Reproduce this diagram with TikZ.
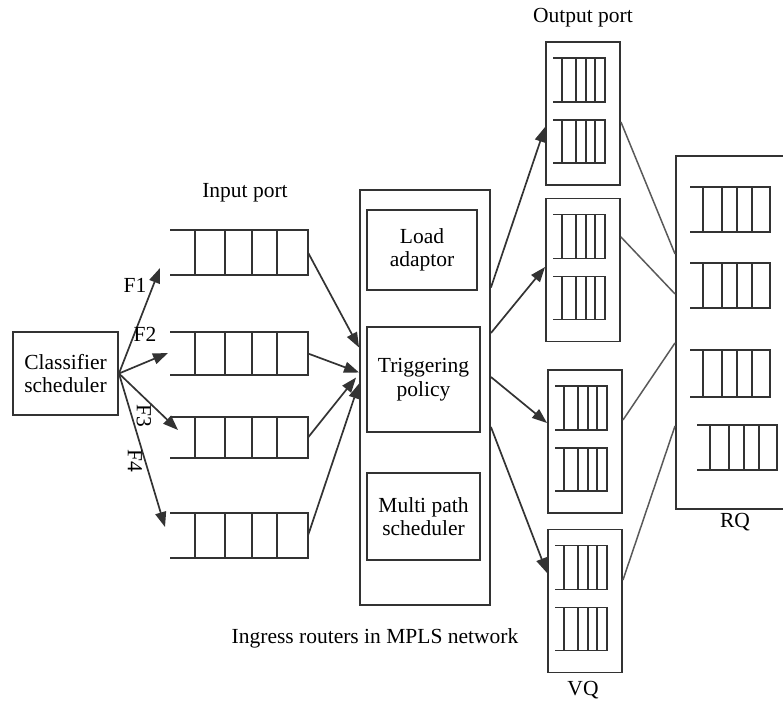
\documentclass[tikz,border=0pt]{standalone}
\usepackage{fontspec}
\setmainfont{Liberation Serif}
\usetikzlibrary{arrows.meta,calc,positioning}

% queue: name, top-left, length, height, divider offsets
\newcommand{\bufq}[5]{%
    \coordinate (#1) at (#2);
    \draw[qline] (#1) -- ++(#3,0) -- ++(0,#4) -- ++(-#3,0);
    \foreach \d in {#5} \draw[qline] ($(#1)+(\d,0)$) -- ++(0,#4);
    \coordinate (#1-e) at ($(#1)+(#3,#4/2)$);
}

\begin{document}
\begin{tikzpicture}[x=1pt,y=-1pt,
    font=\fontsize{21.5}{23.5}\selectfont,
    box/.style={draw=black!80, line width=1.9pt, align=center, inner sep=0pt},
    qline/.style={draw=black!80, line width=1.7pt},
    flow/.style={draw=black!80, line width=1.7pt, -{Triangle[length=15pt,width=11pt]}},
    link/.style={draw=black!65, line width=1.5pt}]
    \useasboundingbox (0,0) rectangle (783,702);
    \clip (0,0) rectangle (783,702);

    % classifier and input port
    \node[box, minimum width=105pt, minimum height=83pt] (cls) at (65.5,373.5) {Classifier\\scheduler};
    \node (inlbl) at (245,193) {Input port};
    \bufq{qin1}{170,230}{138}{45}{25,55,82,107}
    \bufq{qin2}{170,332}{138}{43}{25,55,82,107}
    \bufq{qin3}{170,417}{138}{41}{25,55,82,107}
    \bufq{qin4}{170,513}{138}{45}{25,55,82,107}
    \coordinate (f1) at (160,268);
    \coordinate (f2) at (168,353);
    \coordinate (f3) at (178,430);
    \coordinate (f4) at (165,527);
    \draw[flow] (cls.east) -- (f1);
    \draw[flow] (cls.east) -- (f2);
    \draw[flow] (cls.east) -- (f3);
    \draw[flow] (cls.east) -- (f4);
    \node (lf1) at (135,285) {F1};
    \node (lf2) at (145,334) {F2};
    \node[rotate=-90] (lf3) at (144,416) {F3};
    \node[rotate=-90] (lf4) at (135,461) {F4};

    % ingress router
    \node[box, minimum width=130pt, minimum height=415pt] (ingress) at (425,397.5) {};
    \node[box, minimum width=110pt, minimum height=80pt] (load) at (422,250) {Load\\adaptor};
    \node[box, minimum width=113pt, minimum height=105pt] (trig) at (423.5,379.5) {Triggering\\policy};
    \node[box, minimum width=113pt, minimum height=87pt] (mps) at (423.5,516.5) {Multi path\\scheduler};
    \node (cap) at (375,638) {Ingress routers in MPLS network};
    \draw[flow] (qin1-e) -- ($(ingress.west)+(0,-50)$);
    \draw[flow] (qin2-e) -- ($(ingress.west)+(0,-25)$);
    \draw[flow] (qin3-e) -- ($(ingress.west)+(-3,-20)$);
    \draw[flow] (qin4-e) -- ($(ingress.west)+(0,-14)$);

    % output ports (VQ)
    \node (oplbl) at (583,18) {Output port};
    \foreach \n/\x/\y in {1/583/113.5, 2/583/270, 3/585/441.5, 4/585/601} {
        \node[box, minimum width=74pt, minimum height=143pt] (op\n) at (\x,\y) {};
        \bufq{op\n a}{\x-30,\y-55.5}{52}{44}{9,23,33,42}
        \bufq{op\n b}{\x-30,\y+6.5}{52}{43}{9,23,33,42}
    }
    \node (vq) at (583,690) {VQ};
    \draw[flow] ($(ingress.east)+(0,-110)$) -- ($(op1.west)+(0,13.5)$);
    \draw[flow] ($(ingress.east)+(0,-64.5)$) -- ($(op2.west)+(0,-3)$);
    \draw[flow] ($(ingress.east)+(0,-20.5)$) -- ($(op3.west)+(0,-18.5)$);
    \draw[flow] ($(ingress.east)+(0,29.5)$) -- ($(op4.west)+(0,-28)$);

    % RQ
    \node[box, minimum width=130pt, minimum height=353pt, anchor=north west] (rq) at (675,155) {};
    \bufq{rq1}{690,187}{80}{45}{13,32,47,62}
    \bufq{rq2}{690,263}{80}{45}{13,32,47,62}
    \bufq{rq3}{690,350}{80}{47}{13,32,47,62}
    \bufq{rq4}{697,425}{80}{45}{13,32,47,62}
    \node (rqlbl) at (735,522) {RQ};
    \draw[link] ($(op1.east)+(0,8.5)$) -- ($(rq.west)+(0,-78.5)$);
    \draw[link] ($(op2.east)+(0,-33)$) -- ($(rq.west)+(0,-38.5)$);
    \draw[link] ($(op3.east)+(0,-21.5)$) -- ($(rq.west)+(0,10.5)$);
    \draw[link] ($(op4.east)+(0,-21)$) -- ($(rq.west)+(0,93.5)$);
\end{tikzpicture}
\end{document}
